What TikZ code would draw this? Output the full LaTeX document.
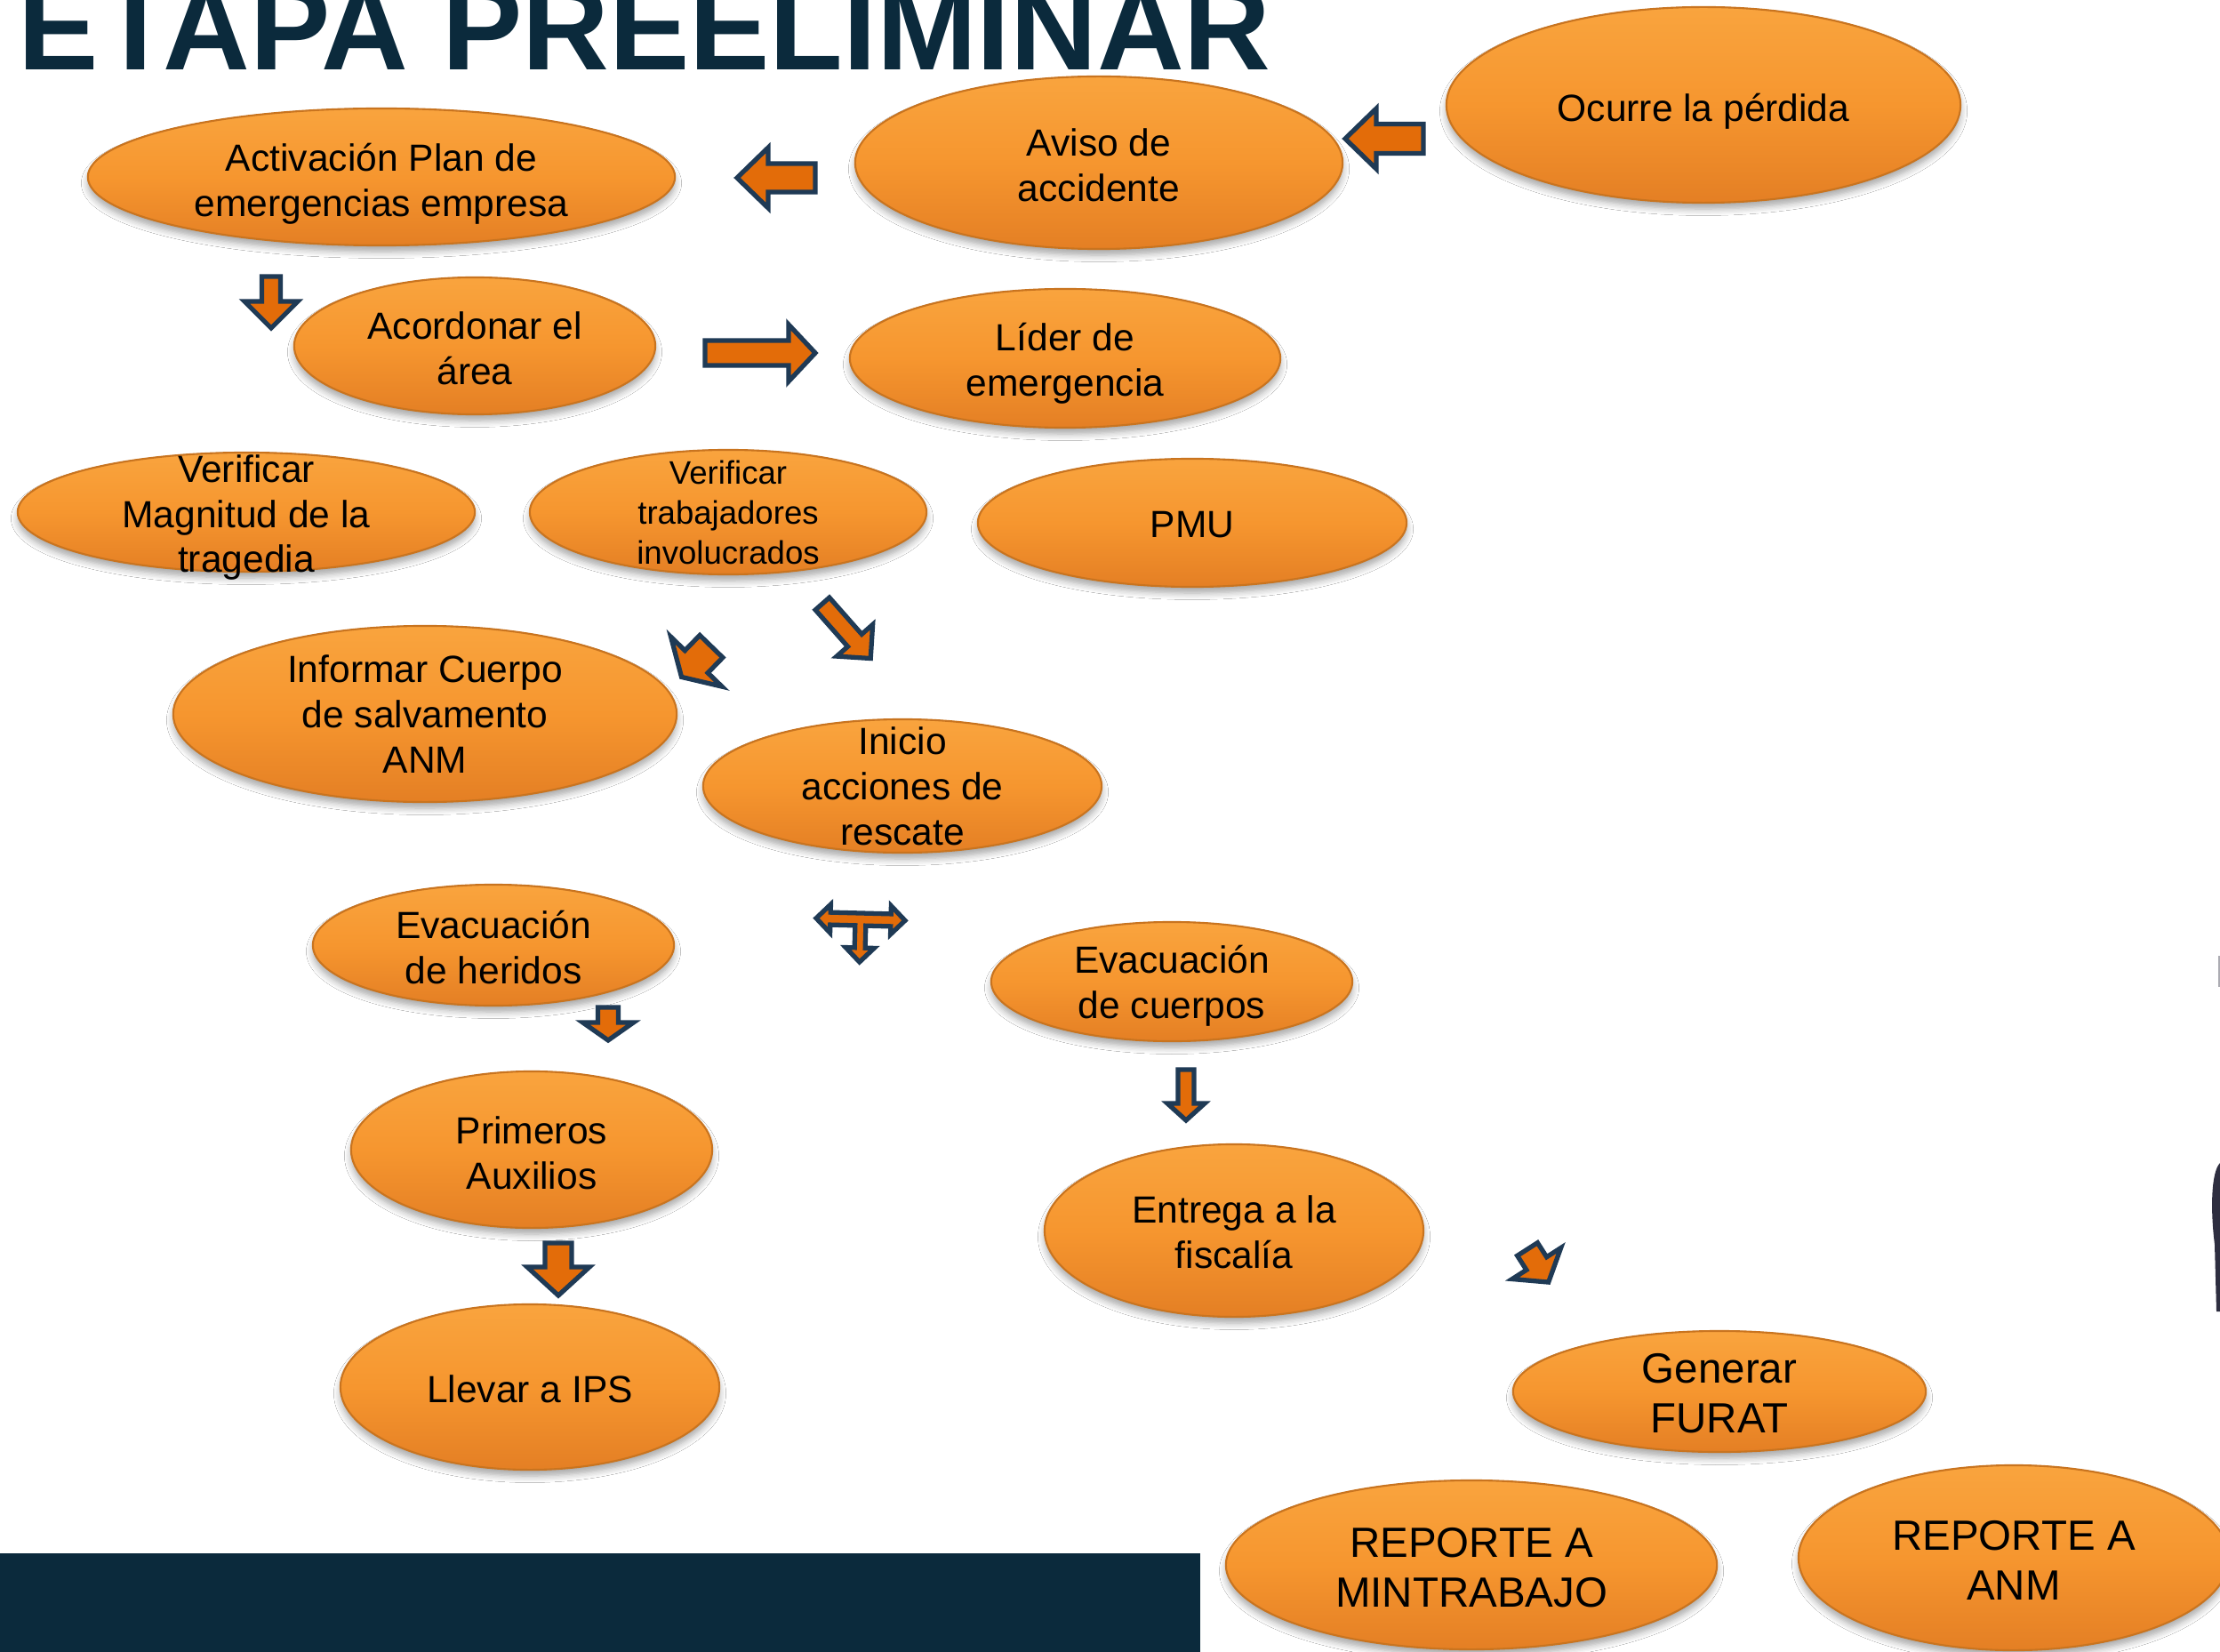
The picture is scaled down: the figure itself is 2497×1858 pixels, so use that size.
\documentclass[tikz,border=0pt]{standalone}
\usepackage{fontspec}
\setmainfont{Liberation Sans}
\usetikzlibrary{shapes.geometric,shadows.blur}
\definecolor{navy}{HTML}{0B2A3C}
\definecolor{arrfill}{HTML}{E36C09}
\definecolor{arrline}{HTML}{1F3A55}
\definecolor{elltop}{HTML}{F9A43E}
\definecolor{ellmid}{HTML}{F6962F}
\definecolor{ellbot}{HTML}{E47F24}
\definecolor{ellrim}{HTML}{C9741F}
\definecolor{edgedark}{HTML}{2E2E40}
\newcommand\dnorm{\fontsize{12.1pt}{14.5pt}\selectfont}
\newcommand\dbig{\fontsize{13.5pt}{16.1pt}\selectfont}
\newcommand\dsmall{\fontsize{10.4pt}{12.8pt}\selectfont}
\tikzset{
  ell/.style={ellipse, inner sep=0pt,
    top color=elltop, bottom color=ellbot, middle color=ellmid,
    draw=ellrim, line width=0.6pt,
    blur shadow={shadow xshift=0pt, shadow yshift=-0.07cm, shadow blur steps=6, shadow opacity=35}},
  txt/.style={inner sep=0pt, align=center, text=black, font=\dnorm},
  barrowsty/.style={fill=arrfill, draw=arrline, line width=1.5pt, line join=miter},
  pics/barrow/.style args={#1/#2/#3/#4}{code={
    \path[barrowsty] (0,-#2/2) -- (#1-#4,-#2/2) -- (#1-#4,-#3/2) -- (#1,0)
      -- (#1-#4,#3/2) -- (#1-#4,#2/2) -- (0,#2/2) -- cycle;}}
}
\begin{document}
\begin{tikzpicture}[x=0.01cm, y=-0.01cm]
\useasboundingbox (0,0) rectangle (2497,1858);
\fill[white] (0,0) rectangle (2497,1858);
\clip (0,0) rectangle (2497,1858);

% title and bar
\node[anchor=base west, inner sep=0pt, text=navy, font=\fontsize{38.5pt}{40pt}\selectfont\bfseries] (title) at (20,79) {ETAPA PREELIMINAR};
\fill[navy] (0,1747) rectangle (1350,1858);

% right edge fragments
\fill[edgedark] (2497,1308) .. controls (2487,1318) and (2486,1360) .. (2491,1400) -- (2493,1475) -- (2497,1475) -- cycle;
\fill[edgedark!40] (2495,1075) rectangle (2497,1110);

% ellipses
\node[ell, minimum width=5.78cm, minimum height=2.20cm] (ocurre) at (1916,118) {};
\node[ell, minimum width=5.48cm, minimum height=1.94cm] (aviso) at (1236,183) {};
\node[ell, minimum width=6.60cm, minimum height=1.54cm] (activ) at (429,199) {};
\node[ell, minimum width=4.06cm, minimum height=1.54cm] (acord) at (534,389) {};
\node[ell, minimum width=4.84cm, minimum height=1.56cm] (lider) at (1198,403) {};
\node[ell, minimum width=5.14cm, minimum height=1.34cm] (vermag) at (277,576) {};
\node[ell, minimum width=4.46cm, minimum height=1.40cm] (vertrab) at (819,576) {};
\node[ell, minimum width=4.82cm, minimum height=1.44cm] (pmu) at (1341,588) {};
\node[ell, minimum width=5.66cm, minimum height=1.98cm] (informar) at (478,803) {};
\node[ell, minimum width=4.48cm, minimum height=1.50cm] (inicio) at (1015,884) {};
\node[ell, minimum width=4.06cm, minimum height=1.36cm] (evher) at (555,1063) {};
\node[ell, minimum width=4.06cm, minimum height=1.34cm] (evcue) at (1318,1104) {};
\node[ell, minimum width=4.06cm, minimum height=1.76cm] (primeros) at (598,1293) {};
\node[ell, minimum width=4.26cm, minimum height=1.94cm] (entrega) at (1388,1384) {};
\node[ell, minimum width=4.26cm, minimum height=1.86cm] (llevar) at (596,1560) {};
\node[ell, minimum width=4.64cm, minimum height=1.36cm] (generar) at (1934,1565) {};
\node[ell, minimum width=5.52cm, minimum height=1.90cm] (repmin) at (1655,1760) {};
\node[ell, minimum width=4.84cm, minimum height=2.08cm] (repanm) at (2265,1752) {};

% texts
\node[txt] (ocurre-t) at ([yshift=-0.07cm]ocurre.center) {Ocurre la pérdida};
\node[txt] (aviso-t) at ([yshift=-0.03cm]aviso.center) {Aviso de\\accidente};
\node[txt] (activ-t) at ([yshift=-0.08cm]activ.center) {Activación Plan de\\emergencias empresa};
\node[txt] (acord-t) at ([yshift=-0.03cm]acord.center) {Acordonar el\\área};
\node[txt] (lider-t) at ([yshift=-0.06cm]lider.center) {Líder de\\emergencia};
\node[txt] (vermag-t) at ([yshift=-0.06cm]vermag.center) {Verificar\\Magnitud de la\\tragedia};
\node[txt, font=\dsmall] (vertrab-t) at (vertrab.center) {Verificar\\trabajadores\\involucrados};
\node[txt] (pmu-t) at ([yshift=-0.02cm]pmu.center) {PMU};
\node[txt] (informar-t) at (informar.center) {Informar Cuerpo\\de salvamento\\ANM};
\node[txt] (inicio-t) at (inicio.center) {Inicio\\acciones de\\rescate};
\node[txt] (evher-t) at ([yshift=-0.03cm]evher.center) {Evacuación\\de heridos};
\node[txt] (evcue-t) at ([yshift=-0.05cm]evcue.center) {Evacuación\\de cuerpos};
\node[txt] (primeros-t) at ([yshift=-0.04cm]primeros.center) {Primeros\\Auxilios};
\node[txt] (entrega-t) at ([yshift=-0.02cm]entrega.center) {Entrega a la\\fiscalía};
\node[txt] (llevar-t) at ([yshift=-0.02cm]llevar.center) {Llevar a IPS};
\node[txt, font=\dbig] (generar-t) at ([yshift=-0.02cm]generar.center) {Generar\\FURAT};
\node[txt, font=\dbig] (repmin-t) at ([yshift=-0.03cm]repmin.center) {REPORTE A\\MINTRABAJO};
\node[txt, font=\dbig] (repanm-t) at ([yshift=-0.03cm]repanm.center) {REPORTE A\\ANM};

% block arrows
\pic[rotate=180] (a1) at (1601,156) {barrow=88/33/68/35};
\pic[rotate=180] (a2) at (917,200) {barrow=88/32/68/35};
\pic[rotate=-90] (a3) at (305,311) {barrow=58/21/60/30};
\pic (a4) at (793,397) {barrow=124/28/64/30};
\pic[rotate=-48.6] (a5) at (925,679) {barrow=82/21/54/27};
\pic[rotate=-134.2] (a6) at (800,727) {barrow=48/36/80/24};
\pic[rotate=-90] (a8) at (684,1133) {barrow=37/23/57/20};
\pic[rotate=-90] (a9) at (628,1398) {barrow=59/30/70/32};
\pic[rotate=-90] (a10) at (1334,1203) {barrow=57/18/42/19};
\pic[rotate=-57.4] (a11) at (1718,1405) {barrow=44/27/65/25};

% T-shaped arrow
\begin{scope}[shift={(968,1034)}, rotate=-1.5]
\path[barrowsty] (-50,0) -- (-34,-16) -- (-34,-7) -- (34,-7) -- (34,-16) -- (50,0)
  -- (34,16) -- (34,7) -- (6,7) -- (6,32) -- (16,32) -- (0,48) -- (-16,32)
  -- (-6,32) -- (-6,7) -- (-34,7) -- (-34,16) -- cycle;
\end{scope}
\end{tikzpicture}
\end{document}
